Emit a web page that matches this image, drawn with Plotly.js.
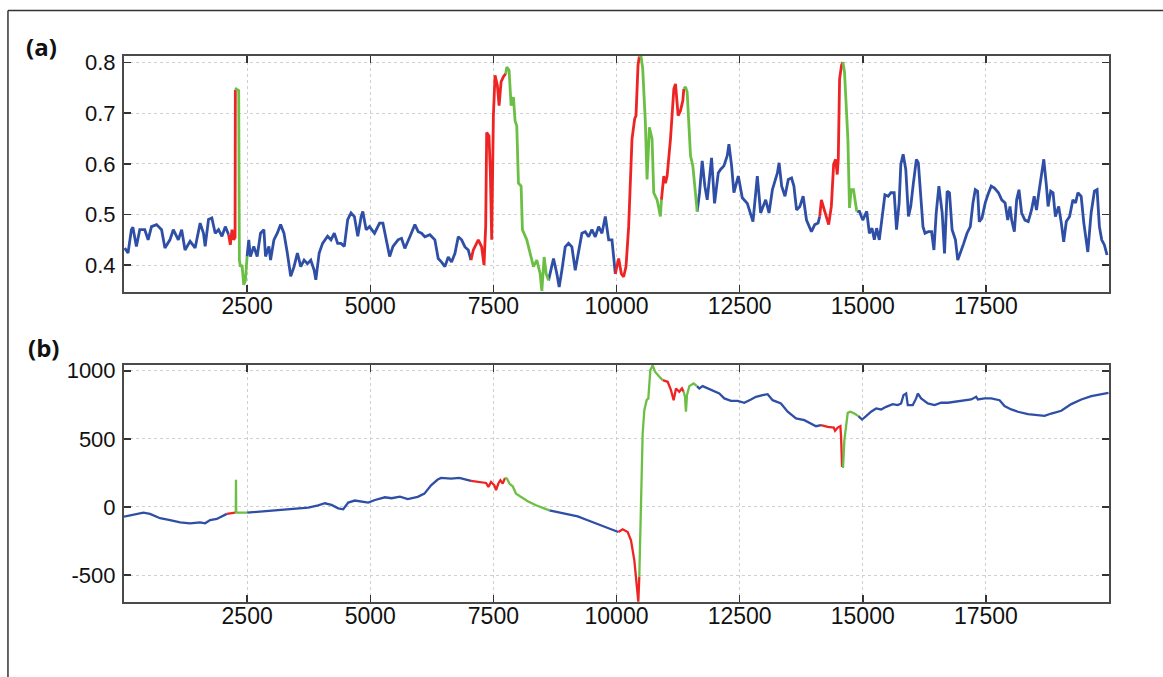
<!DOCTYPE html>
<html><head><meta charset="utf-8">
<script src="https://cdn.plot.ly/plotly-3.0.1.min.js"></script>
<style>html,body{margin:0;padding:0;background:#fff}#chart{width:1163px;height:677px}</style>
</head><body><div id="chart"></div>
<script>
// ---------- panel (a) ----------
const topX = [14,82,150,180,252,320,422,490,558,661,763,831,933,1001,1103,1171,1239,1342,1444,1546,1614,1648,1716,1784,1852,1920,1989,2057,2125,
2159,2193,2227,2255,2261,
2275,2329,2343,2363,2397,2431,2465,2499,
2533,2567,2635,2704,2772,2840,2874,2942,2976,3044,3112,3180,3248,3316,3385,3453,3521,3589,3657,3725,3793,3861,3895,3963,4032,4134,4202,4270,4338,4406,4474,4542,4610,4678,4747,4815,4849,4917,4985,5087,5189,5257,5325,5394,5462,5564,5635,5702,5804,5906,5974,6041,6109,6211,6312,6380,6448,6516,6584,6651,6719,6787,6855,6923,6990,7045,
7093,7194,7262,7310,7344,7364,7411,7439,7466,7500,7534,7581,7616,7656,7704,7751,
7771,7819,7860,7907,7941,7975,8009,8063,8090,8178,8246,8314,8382,8450,8484,8531,8572,8620,
8674,8721,8789,8836,8891,8959,9026,9094,9162,9230,9298,9366,9434,9501,9569,9637,9705,9773,9841,9908,9976,
10044,10098,10145,10193,10247,10315,10369,10396,10437,10464,
10498,10532,10586,10620,10668,10722,10756,10824,10892,10912,
10960,10994,11028,11096,11164,11198,11252,11299,11347,11367,
11401,11435,11503,11550,11605,11638,
11686,11740,11794,11842,11930,11991,12066,12113,12181,12249,12283,12337,12384,12473,12554,12656,12771,12859,12927,13029,13097,13165,13267,13301,13354,13421,13488,13555,13602,13656,13723,13790,13858,13958,14026,14093,14126,
14160,14207,14261,14308,14362,14409,14449,14482,14503,14530,14570,14597,
14630,14664,14698,14731,14765,14812,14879,
14933,15000,15081,15134,15188,15235,15282,15336,15403,15450,15517,15571,15638,15686,15739,15773,15820,15874,15928,15974,16028,16089,16129,16176,16223,16264,16331,16398,16445,16492,16546,16613,16660,16714,16761,16814,16882,16929,16982,17050,17117,17184,17238,17285,17332,17366,17420,17487,17541,17608,17675,17756,17822,17890,17944,17990,18024,18078,18125,18172,18226,18293,18360,18427,18481,18528,18575,18629,18676,18730,18763,18817,18864,18911,18978,19032,19080,19133,19200,19267,19321,19368,19435,19489,19570,19637,19704,19758,19805,19852,19906,19960];
const topY = [0.434,0.424,0.47,0.475,0.437,0.47,0.47,0.45,0.476,0.48,0.47,0.434,0.45,0.47,0.45,0.47,0.43,0.447,0.434,0.483,0.463,0.437,0.49,0.493,0.463,0.47,0.457,0.476,0.46,
0.44,0.47,0.45,0.455,0.746,
0.748,0.745,0.41,0.397,0.40,0.361,0.37,0.417,
0.45,0.417,0.437,0.417,0.463,0.47,0.417,0.437,0.41,0.45,0.463,0.48,0.463,0.424,0.378,0.397,0.424,0.397,0.41,0.403,0.41,0.39,0.371,0.424,0.443,0.457,0.45,0.463,0.443,0.443,0.437,0.49,0.503,0.496,0.457,0.496,0.506,0.47,0.476,0.463,0.483,0.483,0.45,0.417,0.437,0.45,0.453,0.433,0.456,0.48,0.466,0.463,0.456,0.46,0.45,0.413,0.406,0.397,0.416,0.406,0.423,0.456,0.45,0.436,0.43,0.41,
0.43,0.45,0.436,0.40,0.476,0.662,0.655,0.582,0.45,0.695,0.775,0.755,0.715,0.762,0.772,0.778,
0.791,0.785,0.715,0.732,0.685,0.675,0.562,0.556,0.47,0.45,0.423,0.397,0.41,0.383,0.349,0.416,0.383,0.37,
0.39,0.413,0.383,0.357,0.39,0.436,0.443,0.436,0.39,0.43,0.463,0.466,0.456,0.47,0.456,0.476,0.463,0.496,0.45,0.45,0.383,
0.413,0.383,0.377,0.397,0.476,0.649,0.689,0.695,0.795,0.812,
0.812,0.788,0.682,0.569,0.672,0.649,0.543,0.529,0.496,0.529,
0.576,0.562,0.576,0.649,0.748,0.758,0.695,0.705,0.725,0.748,
0.752,0.742,0.616,0.596,0.529,0.506,
0.543,0.606,0.556,0.529,0.612,0.522,0.582,0.589,0.596,0.616,0.639,0.596,0.543,0.576,0.533,0.522,0.486,0.576,0.503,0.529,0.503,0.549,0.582,0.602,0.556,0.536,0.569,0.572,0.556,0.509,0.516,0.536,0.489,0.466,0.48,0.483,0.496,
0.529,0.513,0.496,0.48,0.516,0.599,0.609,0.579,0.609,0.768,0.795,0.801,
0.781,0.715,0.649,0.513,0.549,0.549,0.506,
0.506,0.489,0.506,0.463,0.473,0.45,0.473,0.45,0.509,0.539,0.536,0.543,0.543,0.47,0.523,0.599,0.619,0.589,0.496,0.516,0.562,0.609,0.602,0.529,0.476,0.463,0.466,0.466,0.43,0.503,0.556,0.503,0.423,0.546,0.543,0.47,0.45,0.41,0.423,0.443,0.463,0.476,0.523,0.549,0.546,0.486,0.493,0.523,0.539,0.556,0.552,0.543,0.529,0.523,0.489,0.516,0.489,0.466,0.529,0.549,0.503,0.489,0.486,0.509,0.536,0.509,0.543,0.582,0.609,0.556,0.516,0.546,0.543,0.496,0.516,0.483,0.446,0.486,0.496,0.529,0.523,0.543,0.536,0.483,0.426,0.503,0.546,0.549,0.476,0.45,0.44,0.42];
const topColorFrom = [0,2140,2270,2520,7070,7760,8650,10010,10480,10940,11380,11660,14140,14615,14900];
const topColorCode = ['b','r','g','b','r','g','b','r','g','r','g','b','r','g','b'];

// ---------- panel (b) ----------
const botX = [0,190,393,529,732,935,1139,1342,1545,1647,1749,1884,2020,2088,
2155,2257,
2270,2274,2278,2400,2500,
2791,3130,3469,3740,3943,4079,4214,4350,4451,4553,4688,4824,4959,5095,5298,5434,5603,5761,5964,6100,6235,6370,6438,6641,6810,6945,7047,
7182,7351,7399,7453,7520,7554,7601,7642,7689,7737,
7777,7825,7892,7960,8062,8197,8366,8535,8637,
8806,9009,9212,9415,9618,9821,9990,10037,
10125,10227,10294,10362,10416,10443,10463,
10477,10497,10531,10565,10612,10646,10687,10734,10782,10870,10937,
11039,11106,11160,11208,11275,11329,11363,
11390,11410,11431,11478,11566,11633,
11681,11749,11850,11986,12087,12189,12324,12459,12595,12730,12832,12967,13069,13170,13339,13476,13645,13814,13950,14051,14153,
14289,14411,14438,14492,14546,14560,14580,
14600,14627,14661,14695,14749,14831,14912,
14986,15068,15169,15271,15373,15474,15610,15711,15779,15827,15881,15915,16016,16084,16118,16186,16321,16457,16592,16728,16863,17033,17202,17304,17337,17473,17608,17778,17879,18015,18150,18354,18556,18692,18828,19031,19234,19438,19641,19810,19990];
const botY = [-71,-59,-42,-51,-83,-96,-113,-120,-113,-120,-96,-88,-66,-51,
-47,-42,
-42,199,-42,-42,-42,
-34,-27,-17,-5,12,27,15,-10,-17,32,47,39,32,51,71,64,76,58,74,98,159,201,213,208,213,201,191,
184,176,147,184,159,123,172,196,172,213,
208,172,152,98,74,42,12,-12,-25,
-37,-49,-69,-98,-127,-159,-179,-184,
-164,-184,-245,-392,-613,-695,-515,
-319,172,539,711,784,797,1005,1040,993,956,931,
919,858,784,870,846,870,846,
809,699,821,887,907,887,
870,887,870,853,833,797,779,779,765,789,809,821,828,784,760,699,650,637,613,593,601,
588,583,559,583,593,515,294,
294,490,588,691,699,686,667,
642,667,699,723,716,735,755,748,760,821,833,748,748,797,833,797,760,748,765,765,772,784,789,809,789,797,797,784,741,716,699,681,674,669,686,706,755,789,814,828,838];
const botColorFrom = [0,2120,2265,2600,7100,7760,8700,10080,10470,11000,11380,11660,14200,14590,14950];
const botColorCode = ['b','r','g','b','r','g','b','r','g','r','g','b','r','g','b'];

const xTickVals = [2500,5000,7500,10000,12500,15000,17500];
const topYTicks = [0.4,0.5,0.6,0.7,0.8];
const botYTicks = [-500,0,500,1000];
const panelLabels = ['(a)','(b)'];
const palette = {b:'#2e4fa5', r:'#ee2424', g:'#6cbf45'};

function codeAt(x, from, codes){
  let c = codes[0];
  for (let k = 0; k < from.length; k++) { if (x >= from[k]) c = codes[k]; }
  return c;
}
function buildTraces(xs, ys, from, codes, xa, ya, width){
  const seg = xs.map(x => codeAt(x, from, codes));
  return ['b','r','g'].map(c => ({
    x: xs,
    y: ys.map((v,i) => (seg[i] === c || (i + 1 < seg.length && seg[i+1] === c)) ? v : null),
    type: 'scatter', mode: 'lines', xaxis: xa, yaxis: ya, connectgaps: false,
    line: {color: palette[c], width: width}, hoverinfo: 'skip', showlegend: false
  }));
}

const data = buildTraces(topX, topY, topColorFrom, topColorCode, 'x', 'y', 2.8)
  .concat(buildTraces(botX, botY, botColorFrom, botColorCode, 'x2', 'y2', 2.3));

const tickFontX = {family: 'Liberation Sans, Arial, sans-serif', size: 23, color: '#111'};
const tickFontY = {family: 'Liberation Sans, Arial, sans-serif', size: 22, color: '#111'};
const axisCommon = {
  showgrid: true, gridcolor: '#cfcfcf', griddash: 'dot', gridwidth: 1,
  zeroline: false, showline: true, linecolor: '#4a4a4a', linewidth: 2,
  mirror: 'ticks', ticks: 'inside', ticklen: 7, tickwidth: 1.5, tickcolor: '#333'
};
const layout = {
  width: 1163, height: 677,
  margin: {l: 124, r: 54, t: 56, b: 75},
  paper_bgcolor: '#fff', plot_bgcolor: '#fff',
  showlegend: false,
  xaxis: Object.assign({}, axisCommon, {domain: [0,1], anchor: 'y', range: [0,20000], tickvals: xTickVals, ticktext: xTickVals.map(String), tickfont: tickFontX, ticklabelstandoff: -8}),
  yaxis: Object.assign({}, axisCommon, {domain: [0.5678,1], anchor: 'x', range: [0.347,0.813], tickvals: topYTicks, ticktext: topYTicks.map(v => v.toFixed(1)), tickfont: tickFontY, ticklabelstandoff: 2}),
  xaxis2: Object.assign({}, axisCommon, {domain: [0,1], anchor: 'y2', range: [0,20000], tickvals: xTickVals, ticktext: xTickVals.map(String), tickfont: tickFontX, ticklabelstandoff: -8}),
  yaxis2: Object.assign({}, axisCommon, {domain: [0,0.434], anchor: 'x2', range: [-698,1042], tickvals: botYTicks, ticktext: botYTicks.map(String), tickfont: tickFontY, ticklabelstandoff: 2}),
  annotations: [
    {text: panelLabels[0], xref: 'paper', yref: 'paper', x: -0.084, y: 1.0165, xanchor: 'center', yanchor: 'middle', showarrow: false,
     font: {family: 'Open Sans, DejaVu Sans, sans-serif', size: 24, color: '#111', weight: 'bold'}},
    {text: panelLabels[1], xref: 'paper', yref: 'paper', x: -0.082, y: 0.467, xanchor: 'center', yanchor: 'middle', showarrow: false,
     font: {family: 'Open Sans, DejaVu Sans, sans-serif', size: 24, color: '#111', weight: 'bold'}}
  ],
  shapes: [
    {type: 'line', xref: 'paper', yref: 'paper', x0: -0.1178, x1: 1.06, y0: 1.0833, y1: 1.0833, line: {color: '#333', width: 1.5}},
    {type: 'line', xref: 'paper', yref: 'paper', x0: -0.1178, x1: -0.1178, y0: 1.0833, y1: -0.14, line: {color: '#333', width: 1.5}}
  ]
};
Plotly.newPlot('chart', data, layout, {displayModeBar: false, staticPlot: true});
</script>
</body></html>
